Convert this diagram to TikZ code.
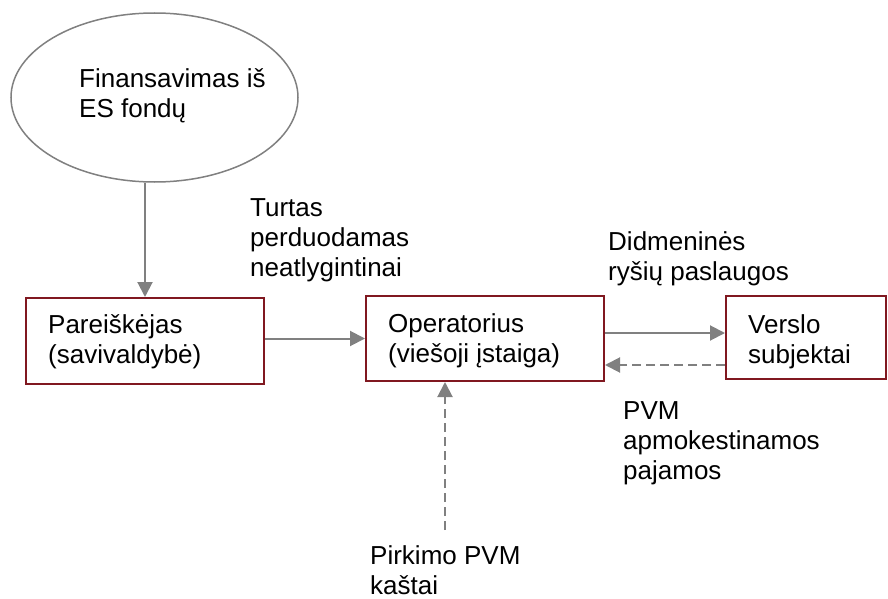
\documentclass[tikz,border=0pt]{standalone}
\usepackage{fontspec}
\setmainfont{Liberation Sans}
\usetikzlibrary{shapes.geometric,arrows.meta}
\definecolor{boxred}{RGB}{128,24,32}
\definecolor{linegray}{RGB}{128,128,128}
% every label starts with a fixed-height strut so its top sits 22pt above the first baseline
\newcommand\topstrut{\rule{0pt}{22pt}}
\tikzset{
  txt/.style={align=left, anchor=north west, inner sep=0pt,
    font=\fontsize{26}{30.3}\selectfont},
  entity/.style={draw=boxred, line width=2pt, inner sep=0pt},
  flow/.style={draw=linegray, line width=2pt,
    -{Triangle[length=15pt,width=15pt]}},
  vatflow/.style={flow, dash pattern=on 9pt off 5pt},
}
\begin{document}
\begin{tikzpicture}[x=1pt,y=-1pt]
\useasboundingbox (0,0) rectangle (888,599);

% funding source
\node[ellipse, draw=linegray, line width=1.5pt, minimum width=287pt,
  minimum height=169pt, inner sep=0pt] (fund) at (154.5,97.5) {};
\node[txt] (fundtxt) at (79,87-22) {\topstrut Finansavimas iš\\ES fondų};

% participants
\node[entity, minimum width=238pt, minimum height=86pt] (app) at (145,341) {};
\node[txt] (apptxt) at (48,333-22) {\topstrut Pareiškėjas\\(savivaldybė)};

\node[entity, minimum width=238pt, minimum height=85pt] (op) at (485,338.5) {};
\node[txt] (optxt) at (388,332-22) {\topstrut Operatorius\\(viešoji įstaiga)};

\node[entity, minimum width=160pt, minimum height=83pt] (biz) at (806,337) {};
\node[txt] (biztxt) at (748,333-22) {\topstrut Verslo\\subjektai};

% flow labels
\node[txt] (assets) at (250,216-22) {\topstrut Turtas\\perduodamas\\neatlygintinai};
\node[txt] (whole) at (608,250-22) {\topstrut Didmeninės\\ryšių paslaugos};
\node[txt] (income) at (623,419-22) {\topstrut PVM\\apmokestinamos\\pajamos};
\node[txt] (costs) at (370,564-22) {\topstrut Pirkimo PVM\\kaštai};

% row and column helpers for the connectors
\coordinate (rowA) at (0,333);
\coordinate (rowB) at (0,365);
\coordinate (costend) at (445,530);

% connectors
\draw[flow] (app.north |- fund.south) -- (app.north);
\draw[flow] (app.east |- op.west) -- (op.west);
\draw[flow] (op.east |- rowA) -- (biz.west |- rowA);
\draw[vatflow] (biz.west |- rowB) -- (op.east |- rowB);
\draw[vatflow] (costend) -- (costend |- op.south);
\end{tikzpicture}
\end{document}
